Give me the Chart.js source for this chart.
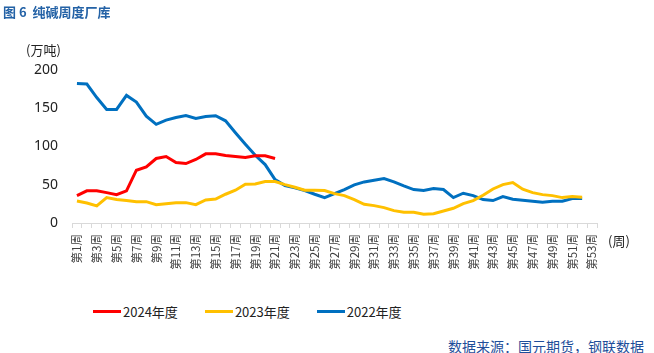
<!DOCTYPE html>
<html lang="zh-CN">
<head>
    <meta charset="UTF-8">
    <title>纯碱周度厂库</title>
    <script src="https://cdn.jsdelivr.net/npm/chart.js"></script>
    <style>
        body {
            margin: 0;
            background: #fff;
            font-family: "Noto Sans CJK SC", "Noto Sans", sans-serif;
        }
        #wrap {
            position: relative;
            width: 654px;
            height: 353px;
        }
        #chartCanvas {
            position: absolute;
            left: 0;
            top: 0;
        }
        .txt {
            position: absolute;
            white-space: nowrap;
        }
        #title {
            left: 3px;
            top: 2px;
            font-size: 13px;
            font-weight: bold;
            color: #2462a6;
        }
        #unit {
            left: 26px;
            top: 40px;
            font-size: 13px;
            color: #222;
        }
        #xunit {
            left: 608px;
            top: 231px;
            font-size: 13px;
            color: #222;
        }
        #source {
            right: 10px;
            top: 336px;
            font-size: 14px;
            color: #1f4e9a;
        }
        #legend {
            position: absolute;
            left: 93px;
            top: 302px;
            font-size: 13px;
            color: #222;
            display: flex;
            align-items: center;
        }
        .item {
            display: flex;
            align-items: center;
            margin-right: 27px;
        }
        .swatch {
            width: 28px;
            height: 3px;
            margin-right: 2px;
        }
    </style>
</head>
<body>
<div id="wrap">
    <canvas id="chartCanvas" width="654" height="300"></canvas>
    <div class="txt" id="title">图 6&nbsp; 纯碱周度厂库</div>
    <div class="txt" id="unit">(万吨)</div>
    <div class="txt" id="xunit">(周)</div>
    <div id="legend"></div>
    <div class="txt" id="source">数据来源：国元期货，钢联数据</div>
</div>
<script>
    // 第1周 ... 第53周
    const weeks = [];
    for (let i = 1; i <= 53; i++) weeks.push('第' + i + '周');

    const yTicks = [0, 50, 100, 150, 200];

    // 2024年度 (到第21周)
    const s2024 = [35.8, 42, 42, 39.7, 37, 42, 69, 73.4, 84.3, 86.9,
        79, 77.7, 83, 90.4, 90.4, 88.2, 86.9, 85.6, 87.8, 87.8,
        84.3];

    // 2023年度
    const s2023 = [28.8, 26.2, 22.3, 33.2, 30.6, 29.3, 27.9, 27.9, 24, 25.3,
        26.6, 26.6, 24, 30.1, 31.4, 37.6, 42.8, 50.7, 51, 54.1,
        54.1, 50.2, 46.7, 42.8, 42.8, 42.4, 38.4, 35.8, 30.6, 24.5,
        22.7, 20.1, 16.2, 14, 14, 11.4, 12.2, 15.7, 19.2, 25.3,
        29.3, 36.2, 44.5, 50.2, 52.8, 44.1, 39.7, 37.1, 35.8, 33.2,
        34.5, 33.6];

    // 2022年度
    const s2022 = [182.5, 181.7, 164, 148.5, 148.5, 166.8, 158, 139.7, 129, 134.5,
        138, 140.6, 136.7, 139.3, 140.2, 133.6, 118, 103, 88.6, 76.4,
        56.8, 48.9, 45.9, 42.4, 37.6, 33.2, 38.4, 43.7, 49.8, 53.7,
        55.9, 58, 53.7, 48.5, 43.7, 42.4, 45, 43.7, 33.2, 38.9,
        35.8, 30.6, 29.3, 34.5, 31, 29.7, 28.4, 27.1, 28.4, 28.4,
        31.9, 31.9];

    function lineSet(label, data, color) {
        return {
            label: label,
            data: data,
            borderColor: color,
            backgroundColor: color,
            borderWidth: 3,
            pointRadius: 0,
            tension: 0,
            fill: false
        };
    }

    const ctx = document.getElementById('chartCanvas').getContext('2d');
    const chart = new Chart(ctx, {
        type: 'line',
        data: {
            labels: weeks,
            datasets: [
                lineSet('2024年度', s2024, '#ff0000'),
                lineSet('2023年度', s2023, '#ffc000'),
                lineSet('2022年度', s2022, '#0070c0')
            ]
        },
        options: {
            responsive: false,
            animation: false,
            layout: {
                padding: { top: 70, right: 57, left: 0, bottom: 0 }
            },
            plugins: {
                legend: { display: false },
                tooltip: { enabled: false }
            },
            scales: {
                x: {
                    offset: true,
                    grid: {
                        display: true,
                        offset: true,
                        drawOnChartArea: false,
                        tickLength: 5,
                        color: '#d9d9d9'
                    },
                    border: { color: '#d9d9d9' },
                    ticks: {
                        autoSkip: false,
                        minRotation: 90,
                        maxRotation: 90,
                        padding: 6,
                        color: '#404040',
                        font: { family: '"Noto Sans CJK SC", sans-serif', size: 11.5 },
                        callback: function(value, index) {
                            return index % 2 === 0 ? weeks[index] : '';
                        }
                    },
                    afterFit: function(scale) { scale.height = 77; }
                },
                y: {
                    min: 0,
                    max: 200,
                    grid: { display: false, drawTicks: false },
                    border: { display: false },
                    afterBuildTicks: function(scale) {
                        scale.ticks = yTicks.map(v => ({ value: v }));
                    },
                    ticks: {
                        padding: 14,
                        color: '#222',
                        font: { family: '"Noto Sans", sans-serif', size: 14 }
                    },
                    afterFit: function(scale) { scale.width = 72; }
                }
            }
        }
    });

    // 图例
    const legendBox = document.getElementById('legend');
    chart.data.datasets.forEach(ds => {
        const item = document.createElement('div');
        item.className = 'item';
        const sw = document.createElement('span');
        sw.className = 'swatch';
        sw.style.background = ds.borderColor;
        const t = document.createElement('span');
        t.textContent = ds.label;
        item.appendChild(sw);
        item.appendChild(t);
        legendBox.appendChild(item);
    });
</script>
</body>
</html>
